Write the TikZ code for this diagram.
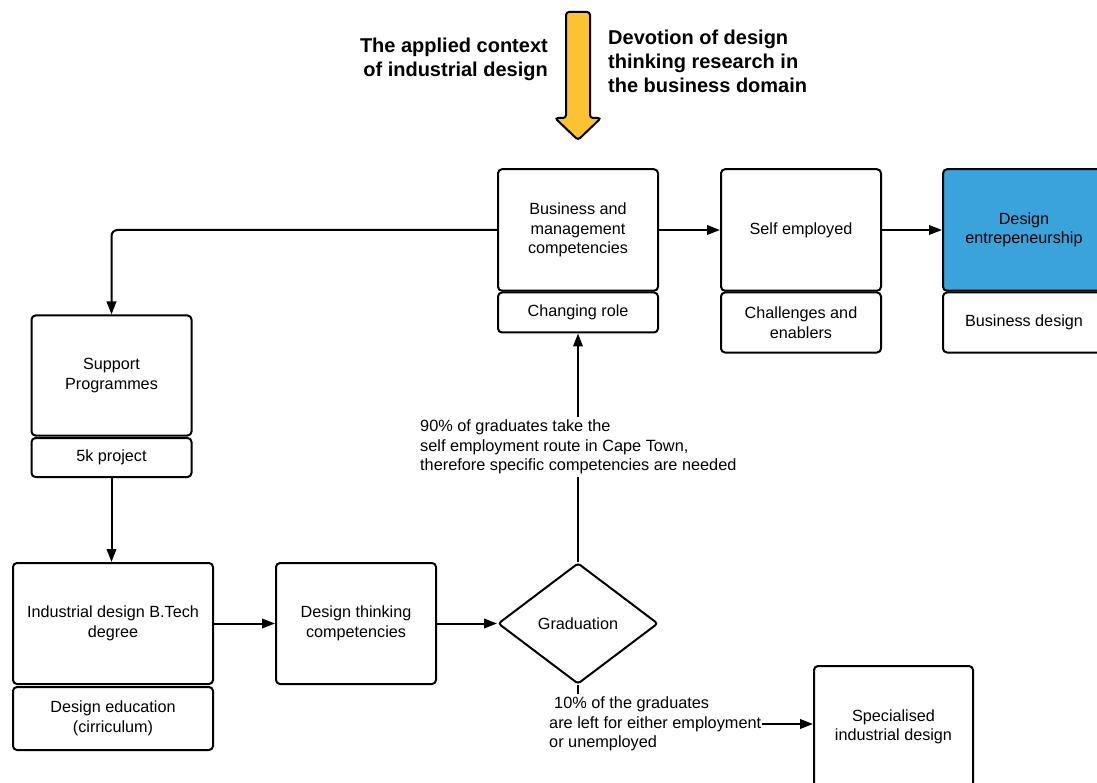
\documentclass[tikz,border=0pt]{standalone}
\usepackage{fontspec}
\setmainfont{Liberation Sans}
\usetikzlibrary{arrows.meta,shapes.geometric}
\definecolor{entblue}{HTML}{3AA3DC}
\definecolor{arrowgold}{HTML}{FBC232}

\begin{document}
\begin{tikzpicture}[x=1pt,y=-1pt,
  box/.style={draw,line width=2pt,rounded corners=4pt,align=center,
    inner sep=0pt,font=\fontsize{16.2}{19.5}\selectfont},
  decision/.style={diamond,draw,line width=2pt,rounded corners=3pt,
    inner sep=0pt,minimum width=160,minimum height=121,
    font=\fontsize{16.2}{19.5}\selectfont},
  note/.style={align=left,inner xsep=1pt,inner ysep=3pt,
    font=\fontsize{16.3}{19.6}\selectfont},
  heading/.style={font=\fontsize{20}{24}\selectfont\bfseries,inner sep=0pt},
  flow/.style={line width=2pt,-{Triangle[length=13pt,width=9.5pt]}},
  plain/.style={line width=2pt}]

\useasboundingbox (0,0) rectangle (1097,783);
\clip (0,0) rectangle (1097,783);

% headline arrow and the two captions beside it
\draw[line width=2pt,rounded corners=3pt,fill=arrowgold]
  (566,12) -- (590,12) -- (590,118) -- (601,118) -- (578,140)
  -- (555,118) -- (566,118) -- cycle;
\node[heading,align=right,anchor=east] (ctx) at (548,59)
  {The applied context\\of industrial design};
\node[heading,align=left,anchor=west] (dev) at (608,61)
  {Devotion of design\\thinking research in\\the business domain};

% top row
\node[box,minimum width=160,minimum height=121.5] (biz) at (578,230)
  {Business and\\management\\competencies};
\node[box,minimum width=160,minimum height=40] (chg) at (578,312.5)
  {Changing role};
\node[box,minimum width=160,minimum height=121.5] (self) at (801,230)
  {Self employed};
\node[box,minimum width=160,minimum height=60] (chal) at (801,322.5)
  {Challenges and\\enablers};
\node[box,fill=entblue,minimum width=162,minimum height=121.5] (ent) at (1024,230)
  {Design\\entrepeneurship};
\node[box,minimum width=162,minimum height=60] (bdes) at (1024,322.5)
  {Business design};

% left column
\node[box,minimum width=160,minimum height=120] (sup) at (111.5,375.5)
  {Support\\Programmes};
\node[box,minimum width=160,minimum height=39] (fivek) at (111.5,457.5)
  {5k project};
\node[box,minimum width=200,minimum height=121] (ind) at (113,623.5)
  {Industrial design B.Tech\\degree};
\node[box,minimum width=200,minimum height=63] (edu) at (113,718.5)
  {Design education\\(cirriculum)};

% bottom row
\node[box,minimum width=160,minimum height=121] (dtc) at (356,623.5)
  {Design thinking\\competencies};
\node[decision] (grad) at (578,623.5) {Graduation};
\node[box,minimum width=159,minimum height=122] (spec) at (893.5,727)
  {Specialised\\industrial design};

% notes on the branches leaving the graduation decision
\node[note,anchor=west] (lab90) at (419,447)
  {90\% of graduates take the\\self employment route in Cape Town,\\therefore specific competencies are needed};
\node[note,anchor=west] (lab10) at (548,724)
  {\hspace*{5pt}10\% of the graduates\\are left for either employment\\or unemployed};

% connectors
\draw[flow,rounded corners=6pt] (biz.west) -| (sup.north);
\draw[flow] (biz.east) -- (self.west);
\draw[flow] (self.east) -- (ent.west);
\draw[flow] (fivek.south) -- (fivek.south |- ind.north);
\draw[flow] (ind.east) -- (dtc.west);
\draw[flow] (dtc.east) -- (grad.west);
\draw[plain] (grad.north) -- (grad.north |- lab90.south);
\draw[flow] (grad.north |- lab90.north) -- (chg.south);
\draw[plain] (grad.south) -- (grad.south |- lab10.north);
\draw[flow] (lab10.east) -- (spec.west |- lab10.east);

\end{tikzpicture}
\end{document}
